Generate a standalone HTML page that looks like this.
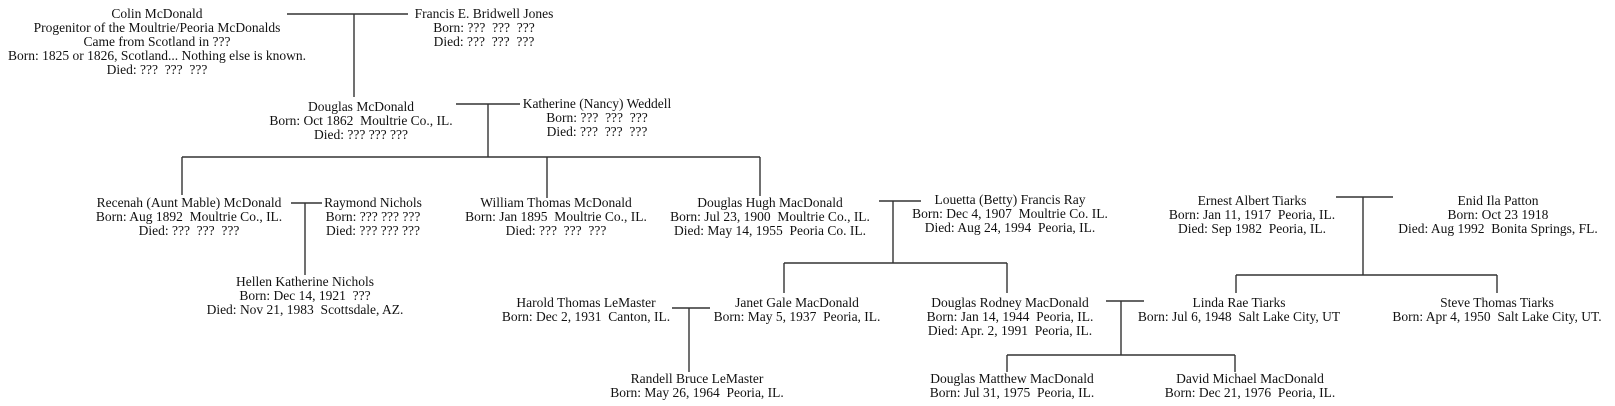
<!DOCTYPE html>
<html><head><meta charset="utf-8"><style>
html,body{margin:0;padding:0;background:#fff;}
body{width:1615px;height:406px;position:relative;overflow:hidden;font-family:"Liberation Serif",serif;font-size:13.5px;line-height:14px;color:#111;}
.n{position:absolute;transform:translateX(-50%);white-space:nowrap;text-align:center;}
svg{position:absolute;left:0;top:0;}
</style></head><body>
<svg width="1615" height="406" stroke="#333" stroke-width="1.4" fill="none">
<line x1="287" y1="14" x2="408" y2="14"/><line x1="354" y1="14" x2="354" y2="97"/>
<line x1="456" y1="104" x2="520" y2="104"/><line x1="488" y1="104" x2="488" y2="157"/>
<line x1="182" y1="157" x2="760" y2="157"/>
<line x1="182" y1="157" x2="182" y2="195"/><line x1="547" y1="157" x2="547" y2="198"/><line x1="760" y1="157" x2="760" y2="196"/>
<line x1="291" y1="203" x2="322" y2="203"/><line x1="305" y1="203" x2="305" y2="275"/>
<line x1="879" y1="201" x2="921" y2="201"/><line x1="893" y1="201" x2="893" y2="263"/>
<line x1="784" y1="263" x2="1007" y2="263"/><line x1="784" y1="263" x2="784" y2="293"/><line x1="1007" y1="263" x2="1007" y2="293"/>
<line x1="672" y1="308" x2="710" y2="308"/><line x1="689" y1="308" x2="689" y2="372"/>
<line x1="1106" y1="301" x2="1144" y2="301"/><line x1="1121" y1="301" x2="1121" y2="355"/>
<line x1="1007" y1="355" x2="1235" y2="355"/><line x1="1007" y1="355" x2="1007" y2="372"/><line x1="1235" y1="355" x2="1235" y2="372"/>
<line x1="1336" y1="197" x2="1393" y2="197"/><line x1="1363" y1="197" x2="1363" y2="275"/>
<line x1="1236" y1="275" x2="1497" y2="275"/><line x1="1236" y1="275" x2="1236" y2="293"/><line x1="1497" y1="275" x2="1497" y2="293"/>
</svg>
<div class="n" style="left:157px;top:7px">Colin McDonald<br>Progenitor of the Moultrie/Peoria McDonalds<br>Came from Scotland in ???<br>Born: 1825 or 1826, Scotland... Nothing else is known.<br>Died: ???&nbsp; ???&nbsp; ???</div>
<div class="n" style="left:484px;top:7px">Francis E. Bridwell Jones<br>Born: ???&nbsp; ???&nbsp; ???<br>Died: ???&nbsp; ???&nbsp; ???</div>
<div class="n" style="left:361px;top:100px">Douglas McDonald<br>Born: Oct 1862&nbsp; Moultrie Co., IL.<br>Died: ??? ??? ???</div>
<div class="n" style="left:597px;top:97px">Katherine (Nancy) Weddell<br>Born: ???&nbsp; ???&nbsp; ???<br>Died: ???&nbsp; ???&nbsp; ???</div>
<div class="n" style="left:189px;top:196px">Recenah (Aunt Mable) McDonald<br>Born: Aug 1892&nbsp; Moultrie Co., IL.<br>Died: ???&nbsp; ???&nbsp; ???</div>
<div class="n" style="left:373px;top:196px">Raymond Nichols<br>Born: ??? ??? ???<br>Died: ??? ??? ???</div>
<div class="n" style="left:305px;top:275px">Hellen Katherine Nichols<br>Born: Dec 14, 1921&nbsp; ???<br>Died: Nov 21, 1983&nbsp; Scottsdale, AZ.</div>
<div class="n" style="left:556px;top:196px">William Thomas McDonald<br>Born: Jan 1895&nbsp; Moultrie Co., IL.<br>Died: ???&nbsp; ???&nbsp; ???</div>
<div class="n" style="left:770px;top:196px">Douglas Hugh MacDonald<br>Born: Jul 23, 1900&nbsp; Moultrie Co., IL.<br>Died: May 14, 1955&nbsp; Peoria Co. IL.</div>
<div class="n" style="left:1010px;top:193px">Louetta (Betty) Francis Ray<br>Born: Dec 4, 1907&nbsp; Moultrie Co. IL.<br>Died: Aug 24, 1994&nbsp; Peoria, IL.</div>
<div class="n" style="left:586px;top:296px">Harold Thomas LeMaster<br>Born: Dec 2, 1931&nbsp; Canton, IL.</div>
<div class="n" style="left:797px;top:296px">Janet Gale MacDonald<br>Born: May 5, 1937&nbsp; Peoria, IL.</div>
<div class="n" style="left:1010px;top:296px">Douglas Rodney MacDonald<br>Born: Jan 14, 1944&nbsp; Peoria, IL.<br>Died: Apr. 2, 1991&nbsp; Peoria, IL.</div>
<div class="n" style="left:697px;top:372px">Randell Bruce LeMaster<br>Born: May 26, 1964&nbsp; Peoria, IL.</div>
<div class="n" style="left:1012px;top:372px">Douglas Matthew MacDonald<br>Born: Jul 31, 1975&nbsp; Peoria, IL.</div>
<div class="n" style="left:1250px;top:372px">David Michael MacDonald<br>Born: Dec 21, 1976&nbsp; Peoria, IL.</div>
<div class="n" style="left:1252px;top:194px">Ernest Albert Tiarks<br>Born: Jan 11, 1917&nbsp; Peoria, IL.<br>Died: Sep 1982&nbsp; Peoria, IL.</div>
<div class="n" style="left:1498px;top:194px">Enid Ila Patton<br>Born: Oct 23 1918<br>Died: Aug 1992&nbsp; Bonita Springs, FL.</div>
<div class="n" style="left:1239px;top:296px">Linda Rae Tiarks<br>Born: Jul 6, 1948&nbsp; Salt Lake City, UT</div>
<div class="n" style="left:1497px;top:296px">Steve Thomas Tiarks<br>Born: Apr 4, 1950&nbsp; Salt Lake City, UT.</div>
</body></html>
